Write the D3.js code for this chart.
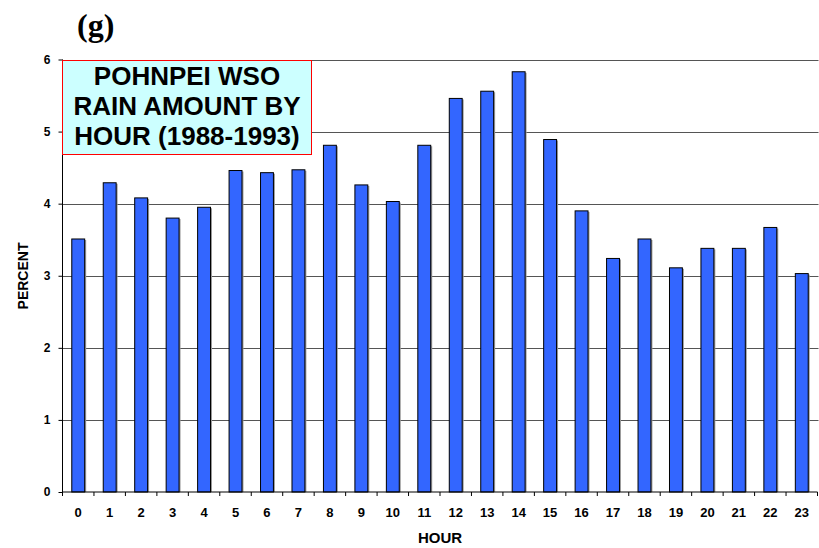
<!DOCTYPE html>
<html lang="en">
<head>
<meta charset="UTF-8">
<title>Pohnpei WSO rain amount by hour</title>
<script src="https://d3js.org/d3.v7.min.js"></script>
<style>
  body { margin: 0; background: #fff; }
  text { font-family: Arial, "Liberation Sans", sans-serif; font-weight: bold; }
</style>
</head>
<body>
<script>
// rain amount share per hour of day (percent)
var hours = d3.range(0, 24).map(String);
var percent = [3.51, 4.29, 4.08, 3.80, 3.95, 4.46, 4.43, 4.47, 4.81, 4.26, 4.03, 4.81,
               5.46, 5.56, 5.83, 4.89, 3.90, 3.24, 3.51, 3.11, 3.38, 3.38, 3.67, 3.03];
var yTicks = [0, 1, 2, 3, 4, 5, 6];
var titleLines = ['POHNPEI WSO', 'RAIN AMOUNT BY', 'HOUR (1988-1993)'];

var W = 819, H = 548;
// plot box (named so they don't clash with window.top etc.)
var pL = 62.5, pR = 817.5, pT = 59.5, pB = 492;

var svg = d3.select('body').append('svg')
    .attr('width', W)
    .attr('height', H);

var x = d3.scaleBand()
    .domain(hours)
    .range([pL, pR])
    .paddingInner(0.59)
    .paddingOuter(0.295);

var y = d3.scaleLinear()
    .domain([0, 6])
    .range([pB, pT]);

// gridlines
svg.append('g')
    .selectAll('line')
    .data(yTicks.filter(function(d){ return d > 0; }))
    .enter().append('line')
    .attr('x1', pL).attr('x2', pR + 1)
    .attr('y1', function(d){ return Math.round(y(d)) + 0.5; })
    .attr('y2', function(d){ return Math.round(y(d)) + 0.5; })
    .attr('stroke', '#555')
    .attr('stroke-width', 1);

// bars with a light shadow
var bars = svg.append('g');
bars.selectAll('.shadow')
    .data(percent)
    .enter().append('rect')
    .attr('class', 'shadow')
    .attr('x', function(d, i){ return x(hours[i]) + 1.5; })
    .attr('y', function(d){ return y(d) + 1; })
    .attr('width', x.bandwidth())
    .attr('height', function(d){ return pB - y(d) - 1; })
    .attr('fill', '#9a9a9a');
bars.selectAll('.bar')
    .data(percent)
    .enter().append('rect')
    .attr('class', 'bar')
    .attr('x', function(d, i){ return x(hours[i]); })
    .attr('y', function(d){ return y(d); })
    .attr('width', x.bandwidth())
    .attr('height', function(d){ return pB - y(d); })
    .attr('fill', '#3366FF')
    .attr('stroke', '#000')
    .attr('stroke-width', 1);

// y axis
var yAxis = svg.append('g')
    .attr('transform', 'translate(' + pL + ',0)')
    .call(d3.axisLeft(y).tickValues(yTicks).tickSize(4).tickPadding(8).tickFormat(d3.format('d')));
yAxis.select('.domain').attr('stroke', '#000').attr('d', 'M0,' + pT + 'V' + pB);
yAxis.selectAll('text').attr('font-size', 12).attr('fill', '#000')
    .style('font-family', 'Arial, "Liberation Sans", sans-serif').style('font-weight', 'bold');

// x axis: ticks at band boundaries
var xAxisG = svg.append('g');
xAxisG.append('line')
    .attr('x1', pL).attr('x2', pR)
    .attr('y1', pB).attr('y2', pB)
    .attr('stroke', '#000');
var step = x.step();
xAxisG.selectAll('.tk')
    .data(d3.range(0, hours.length + 1))
    .enter().append('line')
    .attr('x1', function(i){ return pL + i * step; })
    .attr('x2', function(i){ return pL + i * step; })
    .attr('y1', pB).attr('y2', pB + 4)
    .attr('stroke', '#000');
xAxisG.selectAll('.lbl')
    .data(hours)
    .enter().append('text')
    .attr('x', function(d){ return x(d) + x.bandwidth() / 2; })
    .attr('y', 517)
    .attr('text-anchor', 'middle')
    .attr('font-size', 13)
    .text(function(d){ return d; });

// axis titles
svg.append('text')
    .attr('x', (pL + pR) / 2)
    .attr('y', 543)
    .attr('text-anchor', 'middle')
    .attr('font-size', 15)
    .text('HOUR');
svg.append('text')
    .attr('transform', 'translate(28,276) rotate(-90)')
    .attr('text-anchor', 'middle')
    .attr('font-size', 14)
    .text('PERCENT');

// title box
svg.append('rect')
    .attr('x', 62.5).attr('y', 60.5)
    .attr('width', 249).attr('height', 94)
    .attr('fill', '#CCFFFF')
    .attr('stroke', '#FF0000')
    .attr('stroke-width', 1);
svg.append('g').selectAll('text')
    .data(titleLines)
    .enter().append('text')
    .attr('x', 187)
    .attr('y', function(d, i){ return 85 + i * 30; })
    .attr('text-anchor', 'middle')
    .attr('font-size', 26)
    .text(function(d){ return d; });

// panel letter
svg.append('text')
    .attr('x', 77)
    .attr('y', 36)
    .style('font-family', '"Times New Roman", "Liberation Serif", serif')
    .attr('font-size', 32)
    .text('(g)');
</script>
</body>
</html>
